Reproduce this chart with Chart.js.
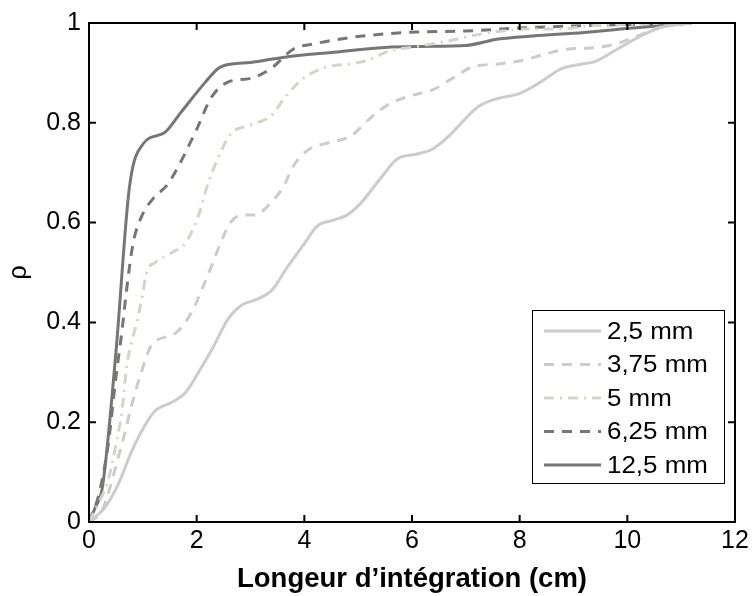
<!DOCTYPE html>
<html>
<head>
<meta charset="utf-8">
<script src="https://cdn.jsdelivr.net/npm/chart.js@4/dist/chart.umd.min.js"></script>
<style>
  html, body { margin: 0; padding: 0; background: #fff; }
  #wrap { width: 755px; height: 596px; }
</style>
</head>
<body>
<div id="wrap"><canvas id="chart1" width="755" height="596"></canvas></div>
<script>
"use strict";

// series labels
var labels = ['2,5 mm', '3,75 mm', '5 mm', '6,25 mm', '12,5 mm'];

// 2,5 mm
var x25 = [0, 0.3, 0.54, 0.79, 1.04, 1.23, 1.54, 1.79, 2.03, 2.28, 2.59, 2.84, 3.09, 3.4, 3.68, 3.98, 4.24, 4.54, 4.79, 5.04, 5.41, 5.72, 6.07, 6.38, 6.68, 7.24, 7.6, 7.98, 8.35, 8.79, 9.17, 9.38, 9.82, 10.25, 10.62, 11.18];
var y25 = [0, 0.03, 0.075, 0.141, 0.194, 0.223, 0.24, 0.259, 0.299, 0.345, 0.408, 0.435, 0.445, 0.465, 0.51, 0.555, 0.593, 0.605, 0.615, 0.638, 0.688, 0.727, 0.737, 0.747, 0.773, 0.833, 0.849, 0.858, 0.879, 0.909, 0.918, 0.922, 0.948, 0.974, 0.991, 1.0];

// 3,75 mm
var x375 = [0, 0.24, 0.39, 0.54, 0.67, 0.79, 0.91, 1.04, 1.17, 1.6, 1.91, 2.1, 2.28, 2.47, 2.62, 2.84, 3.09, 3.31, 3.61, 3.8, 4.05, 4.48, 4.86, 5.23, 5.6, 5.97, 6.38, 6.75, 7.12, 7.6, 8.05, 8.48, 8.91, 9.32, 9.75, 10.19, 10.5, 11.0, 11.2];
var y375 = [0, 0.022, 0.069, 0.128, 0.18, 0.233, 0.279, 0.322, 0.356, 0.378, 0.421, 0.467, 0.514, 0.566, 0.599, 0.615, 0.615, 0.632, 0.672, 0.714, 0.744, 0.761, 0.773, 0.81, 0.839, 0.854, 0.866, 0.889, 0.912, 0.918, 0.925, 0.938, 0.948, 0.95, 0.957, 0.974, 0.988, 0.999, 1.0];

// 5 mm
var x5 = [0, 0.17, 0.35, 0.51, 0.61, 0.7, 0.79, 0.89, 0.98, 1.07, 1.23, 1.54, 1.79, 2.03, 2.21, 2.47, 2.65, 2.96, 3.12, 3.37, 3.68, 3.98, 4.42, 4.86, 5.17, 5.6, 5.97, 6.68, 7.18, 7.68, 8.17, 8.73, 9.26, 10.0, 11.0, 11.2];
var y5 = [0, 0.036, 0.082, 0.16, 0.22, 0.312, 0.36, 0.401, 0.447, 0.5, 0.52, 0.54, 0.559, 0.613, 0.678, 0.747, 0.78, 0.794, 0.8, 0.813, 0.856, 0.889, 0.912, 0.918, 0.925, 0.945, 0.951, 0.964, 0.976, 0.984, 0.988, 0.988, 0.994, 0.997, 1.0, 1.0];

// 6,25 mm
var x625 = [0, 0.17, 0.35, 0.5, 0.61, 0.7, 0.82, 0.98, 1.19, 1.47, 1.97, 2.28, 2.59, 3.0, 3.37, 3.8, 4.17, 4.86, 5.6, 6.1, 7.0, 8.0, 9.0, 10.0, 11.0, 11.2];
var y625 = [0, 0.05, 0.15, 0.29, 0.381, 0.467, 0.559, 0.613, 0.648, 0.678, 0.78, 0.852, 0.882, 0.889, 0.908, 0.948, 0.958, 0.971, 0.979, 0.982, 0.984, 0.99, 0.994, 0.997, 1.0, 1.0];

// 12,5 mm
var x125 = [0, 0.12, 0.25, 0.5, 0.75, 1.0, 1.4, 1.7, 2.15, 2.4, 2.65, 3.0, 3.6, 4.5, 5.5, 6.2, 7.0, 7.6, 8.25, 9.2, 10.1, 11.0, 11.2];
var y125 = [0, 0.03, 0.07, 0.34, 0.67, 0.757, 0.78, 0.82, 0.88, 0.909, 0.918, 0.921, 0.931, 0.941, 0.951, 0.953, 0.955, 0.968, 0.974, 0.981, 0.99, 0.998, 1.0];

// axis ticks
var xTicks = [0, 2, 4, 6, 8, 10, 12];
var yTicks = [0, 0.2, 0.4, 0.6, 0.8, 1];

function pts(xs, ys) {
  return xs.map(function(x, i) { return { x: x, y: ys[i] }; });
}

var light = '#cccccc';
var beige = '#d6d3cb';
var dark = '#767676';

var styles = [
  { color: light, dash: [] },
  { color: light, dash: [10, 8] },
  { color: beige, dash: [10, 6, 2, 6] },
  { color: dark, dash: [10, 8] },
  { color: dark, dash: [] }
];
var series = [pts(x25, y25), pts(x375, y375), pts(x5, y5), pts(x625, y625), pts(x125, y125)];

var datasets = series.map(function(d, i) {
  return {
    label: labels[i],
    data: d,
    borderColor: styles[i].color,
    borderDash: styles[i].dash,
    borderWidth: 3,
    pointRadius: 0,
    fill: false,
    tension: 0,
    cubicInterpolationMode: 'monotone'
  };
});

var sans = "Arial, 'Liberation Sans', Helvetica, sans-serif";
var narrow = "'Liberation Sans Narrow', 'Arial Narrow', Arial, 'Liberation Sans', sans-serif";
var tickFont = { family: narrow, size: 25 };

// frame, inward ticks, x title and the legend box
var framePlugin = {
  id: 'frame',
  afterDatasetsDraw: function(chart) {
    var ctx = chart.ctx, a = chart.chartArea;
    var xs = chart.scales.x, ys = chart.scales.y;
    ctx.save();
    ctx.strokeStyle = '#000';
    ctx.lineWidth = 2;
    ctx.setLineDash([]);
    ctx.strokeRect(a.left, a.top, a.right - a.left, a.bottom - a.top);
    ctx.beginPath();
    xTicks.forEach(function(v) {
      var px = xs.getPixelForValue(v);
      ctx.moveTo(px, a.bottom); ctx.lineTo(px, a.bottom - 7);
      ctx.moveTo(px, a.top); ctx.lineTo(px, a.top + 7);
    });
    yTicks.forEach(function(v) {
      var py = ys.getPixelForValue(v);
      ctx.moveTo(a.left, py); ctx.lineTo(a.left + 7, py);
      ctx.moveTo(a.right, py); ctx.lineTo(a.right - 7, py);
    });
    ctx.stroke();

    // x axis title
    ctx.fillStyle = '#000';
    ctx.textAlign = 'center';
    ctx.textBaseline = 'alphabetic';
    ctx.font = "bold 27px " + narrow;
    var title = 'Longeur d\u2019int\u00e9gration (cm)';
    var tw = ctx.measureText(title).width;
    ctx.save();
    ctx.translate((a.left + a.right) / 2, 587);
    ctx.scale(Math.min(1.3, 350 / tw), 1);
    ctx.fillText(title, 0, 0);
    ctx.restore();

    // legend
    var bx = 532, by = 310, bw = 192, bh = 173;
    ctx.fillStyle = '#fff';
    ctx.fillRect(bx, by, bw, bh);
    ctx.lineWidth = 1;
    ctx.strokeStyle = '#000';
    ctx.strokeRect(bx + 0.5, by + 0.5, bw, bh);
    ctx.font = "24px " + sans;
    ctx.textAlign = 'left';
    ctx.textBaseline = 'middle';
    ctx.fillStyle = '#000';
    chart.data.datasets.forEach(function(ds, i) {
      var cy = by + 21 + i * 33.5;
      ctx.strokeStyle = ds.borderColor;
      ctx.lineWidth = 3;
      ctx.setLineDash(ds.borderDash);
      ctx.beginPath();
      ctx.moveTo(bx + 12, cy); ctx.lineTo(bx + 69, cy);
      ctx.stroke();
      ctx.setLineDash([]);
      ctx.save();
      ctx.translate(bx + 75, cy + 1);
      ctx.scale(1.08, 1);
      ctx.fillText(ds.label, 0, 0);
      ctx.restore();
    });
    ctx.restore();
  }
};

var ctx = document.getElementById('chart1').getContext('2d');

var myChart = new Chart(ctx, {
  type: 'line',
  data: { datasets: datasets },
  options: {
    responsive: false,
    animation: false,
    layout: { padding: { top: 17, right: 20, left: 0, bottom: 0 } },
    plugins: {
      legend: { display: false },
      tooltip: { enabled: false }
    },
    scales: {
      x: {
        type: 'linear',
        min: 0, max: 12,
        afterBuildTicks: function(s) { s.ticks = xTicks.map(function(v) { return { value: v }; }); },
        afterFit: function(s) { s.height = 74; },
        grid: { display: false, drawTicks: false },
        border: { display: false },
        ticks: { font: tickFont, color: '#000', padding: 4, maxRotation: 0,
                 callback: function(v) { return String(v); } }
      },
      y: {
        type: 'linear',
        min: 0, max: 1,
        afterBuildTicks: function(s) { s.ticks = yTicks.map(function(v) { return { value: v }; }); },
        afterFit: function(s) { s.width = 89; },
        grid: { display: false, drawTicks: false },
        border: { display: false },
        ticks: { font: tickFont, color: '#000', padding: 8,
                 callback: function(v) { return String(Math.round(v * 10) / 10); } },
        title: {
          display: true,
          text: '\u03c1',
          color: '#000',
          font: { family: sans, size: 25 },
          padding: { top: 4, bottom: 0 }
        }
      }
    }
  },
  plugins: [framePlugin]
});
</script>
</body>
</html>
